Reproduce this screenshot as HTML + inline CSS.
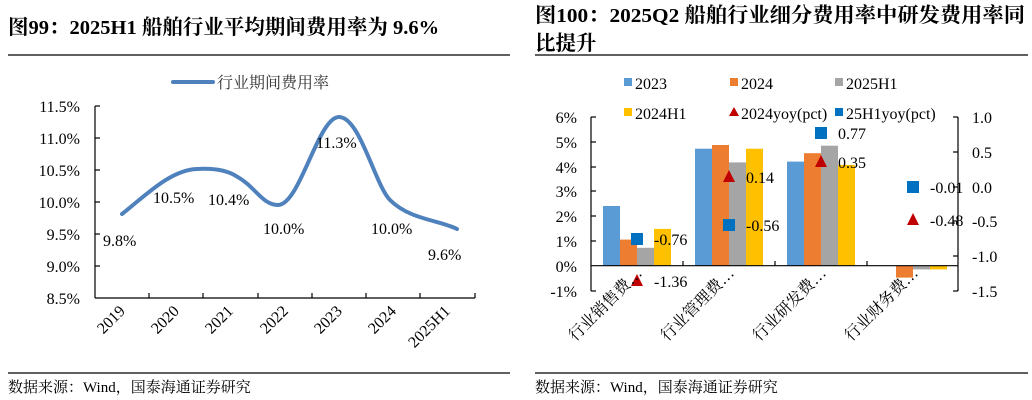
<!DOCTYPE html>
<html><head><meta charset="utf-8"><style>
html,body{margin:0;padding:0;background:#fff;}
svg{display:block;font-family:"Liberation Serif","Noto Serif CJK SC",serif;}
</style></head><body>
<svg width="1032" height="400" viewBox="0 0 1032 400" xmlns="http://www.w3.org/2000/svg">
<!-- titles -->
<text x="8" y="34" font-size="20.5" font-weight="bold">图99：2025H1 船舶行业平均期间费用率为 9.6%</text>
<text x="535" y="22" font-size="20.5" font-weight="bold" textLength="490" lengthAdjust="spacingAndGlyphs">图100：2025Q2 船舶行业细分费用率中研发费用率同</text>
<text x="535" y="50" font-size="20.5" font-weight="bold">比提升</text>
<line x1="8" y1="55" x2="510" y2="55" stroke="#000" stroke-width="1.3"/>
<line x1="535" y1="55" x2="1028" y2="55" stroke="#000" stroke-width="1.3"/>
<line x1="8" y1="373" x2="510" y2="373" stroke="#000" stroke-width="1.3"/>
<line x1="535" y1="373" x2="1028" y2="373" stroke="#000" stroke-width="1.3"/>
<text x="8" y="392" font-size="15">数据来源：Wind，国泰海通证券研究</text>
<text x="535" y="392" font-size="15">数据来源：Wind，国泰海通证券研究</text>

<!-- LEFT CHART -->
<line x1="173" y1="82" x2="213" y2="82" stroke="#4F81BD" stroke-width="4" stroke-linecap="round"/>
<text x="217" y="88" font-size="16" fill="#333">行业期间费用率</text>
<g font-size="16" text-anchor="end">
<text x="80" y="112">11.5%</text><text x="80" y="144">11.0%</text><text x="80" y="176">10.5%</text>
<text x="80" y="208">10.0%</text><text x="80" y="240">9.5%</text><text x="80" y="272">9.0%</text><text x="80" y="304">8.5%</text>
</g>
<g stroke="#000" stroke-width="1.2">
<line x1="95" y1="106" x2="95" y2="298"/>
<line x1="95" y1="298" x2="475" y2="298"/>
<line x1="95" y1="106" x2="100" y2="106"/><line x1="95" y1="138" x2="100" y2="138"/><line x1="95" y1="170" x2="100" y2="170"/><line x1="95" y1="202" x2="100" y2="202"/><line x1="95" y1="234" x2="100" y2="234"/><line x1="95" y1="266" x2="100" y2="266"/>
<line x1="149" y1="298" x2="149" y2="293"/><line x1="203" y1="298" x2="203" y2="293"/><line x1="258" y1="298" x2="258" y2="293"/><line x1="312" y1="298" x2="312" y2="293"/><line x1="366" y1="298" x2="366" y2="293"/><line x1="420" y1="298" x2="420" y2="293"/><line x1="475" y1="298" x2="475" y2="293"/>
</g>
<path d="M122,214 C145,196 170,170 197,169 C215,168 228,171 236,176 C255,186 262,205 278,205 C300,205 318,117 339,117 C360,117 375,185 390,200 C410,220 440,220 457,229" fill="none" stroke="#4F81BD" stroke-width="4" stroke-linecap="round"/>
<g font-size="16">
<text x="103" y="246">9.8%</text><text x="153" y="203">10.5%</text><text x="208" y="205">10.4%</text>
<text x="263" y="234">10.0%</text><text x="316" y="148">11.3%</text><text x="371" y="234">10.0%</text><text x="428" y="260">9.6%</text>
</g>
<g font-size="16" text-anchor="end">
<text transform="translate(126,312) rotate(-45)">2019</text>
<text transform="translate(180,312) rotate(-45)">2020</text>
<text transform="translate(234,312) rotate(-45)">2021</text>
<text transform="translate(289,312) rotate(-45)">2022</text>
<text transform="translate(343,312) rotate(-45)">2023</text>
<text transform="translate(397,312) rotate(-45)">2024</text>
<text transform="translate(451,312) rotate(-45)">2025H1</text>
</g>

<!-- RIGHT CHART -->
<g font-size="16">
<rect x="624" y="78" width="8" height="8" fill="#5B9BD5"/><text x="635" y="89">2023</text>
<rect x="730" y="78" width="8" height="8" fill="#ED7D31"/><text x="741" y="89">2024</text>
<rect x="835" y="78" width="8" height="8" fill="#A5A5A5"/><text x="846" y="89">2025H1</text>
<rect x="624" y="108" width="8" height="8" fill="#FFC000"/><text x="635" y="119">2024H1</text>
<polygon points="734,107 739,116 729,116" fill="#C00000"/><text x="741" y="119">2024yoy(pct)</text>
<rect x="835" y="108" width="8" height="8" fill="#0070C0"/><text x="846" y="119">25H1yoy(pct)</text>
</g>
<g>
<rect x="603" y="206" width="17" height="59.7" fill="#5B9BD5"/>
<rect x="620" y="239.6" width="17" height="26.1" fill="#ED7D31"/>
<rect x="637" y="247.8" width="17" height="17.9" fill="#A5A5A5"/>
<rect x="654" y="228.9" width="17" height="36.8" fill="#FFC000"/>
<rect x="695" y="148.7" width="17" height="117" fill="#5B9BD5"/>
<rect x="712" y="145" width="17" height="120.7" fill="#ED7D31"/>
<rect x="729" y="162.4" width="17" height="103.3" fill="#A5A5A5"/>
<rect x="746" y="148.7" width="17" height="117" fill="#FFC000"/>
<rect x="787" y="161.6" width="17" height="104.1" fill="#5B9BD5"/>
<rect x="804" y="153.2" width="17" height="112.5" fill="#ED7D31"/>
<rect x="821" y="145.7" width="17" height="120" fill="#A5A5A5"/>
<rect x="838" y="164.9" width="17" height="100.8" fill="#FFC000"/>
<rect x="896" y="265.7" width="17" height="11.9" fill="#ED7D31"/>
<rect x="913" y="265.7" width="17" height="3.7" fill="#A5A5A5"/>
<rect x="930" y="265.7" width="17" height="3.7" fill="#FFC000"/>
</g>
<g stroke="#000" stroke-width="1.2">
<line x1="591" y1="117" x2="591" y2="291"/>
<line x1="958" y1="117" x2="958" y2="291"/>
<line x1="591" y1="265.7" x2="958" y2="265.7"/>
<line x1="591" y1="117" x2="596" y2="117"/><line x1="591" y1="142" x2="596" y2="142"/><line x1="591" y1="167" x2="596" y2="167"/><line x1="591" y1="191" x2="596" y2="191"/><line x1="591" y1="216" x2="596" y2="216"/><line x1="591" y1="241" x2="596" y2="241"/><line x1="591" y1="291" x2="596" y2="291"/>
<line x1="953" y1="117" x2="958" y2="117"/><line x1="953" y1="152" x2="958" y2="152"/><line x1="953" y1="187" x2="958" y2="187"/><line x1="953" y1="221" x2="958" y2="221"/><line x1="953" y1="256" x2="958" y2="256"/><line x1="953" y1="291" x2="958" y2="291"/>
<line x1="683" y1="265.7" x2="683" y2="261"/><line x1="775" y1="265.7" x2="775" y2="261"/><line x1="867" y1="265.7" x2="867" y2="261"/>
</g>
<g font-size="16" text-anchor="end">
<text x="577" y="123">6%</text><text x="577" y="148">5%</text><text x="577" y="173">4%</text><text x="577" y="197">3%</text>
<text x="577" y="222">2%</text><text x="577" y="247">1%</text><text x="577" y="272">0%</text><text x="577" y="297">-1%</text>
</g>
<g font-size="16">
<text x="972" y="123">1.0</text><text x="972" y="158">0.5</text><text x="972" y="193">0.0</text>
<text x="972" y="227">-0.5</text><text x="972" y="262">-1.0</text><text x="972" y="297">-1.5</text>
</g>
<g fill="#0070C0">
<rect x="631" y="233" width="12" height="12"/>
<rect x="723" y="219" width="12" height="12"/>
<rect x="815" y="127" width="12" height="12"/>
<rect x="907" y="181" width="12" height="12"/>
</g>
<g fill="#C00000">
<polygon points="637,274 643,286 631,286"/>
<polygon points="729,170 735,182 723,182"/>
<polygon points="821,155 827,167 815,167"/>
<polygon points="913,213 919,225 907,225"/>
</g>
<g font-size="16">
<text x="654" y="245">-0.76</text><text x="654" y="287">-1.36</text>
<text x="746" y="183">0.14</text><text x="746" y="231">-0.56</text>
<text x="838" y="139">0.77</text><text x="838" y="168">0.35</text>
<text x="930" y="193">-0.01</text><text x="930" y="226">-0.48</text>
</g>
<g font-size="16" text-anchor="end">
<text transform="translate(643,274) rotate(-45)">行业销售费…</text>
<text transform="translate(735,274) rotate(-45)">行业管理费…</text>
<text transform="translate(827,274) rotate(-45)">行业研发费…</text>
<text transform="translate(919,274) rotate(-45)">行业财务费…</text>
</g>
</svg>
</body></html>
